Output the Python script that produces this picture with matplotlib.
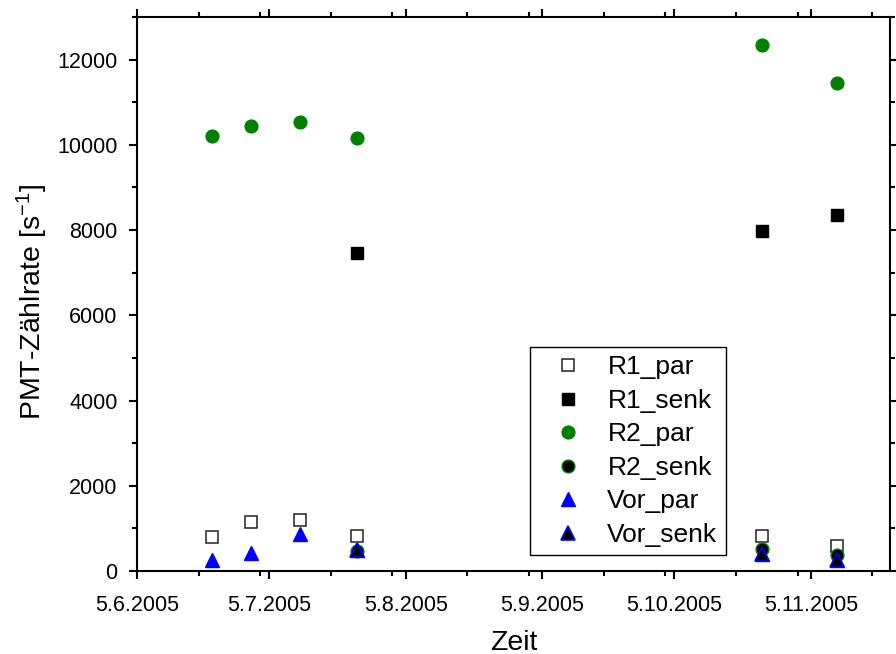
import datetime as dt
import matplotlib
matplotlib.use("Agg")
import matplotlib.pyplot as plt
import matplotlib.dates as mdates
from matplotlib.ticker import FuncFormatter, MultipleLocator, FixedLocator

plt.rcParams['font.family'] = ['Liberation Sans', 'DejaVu Sans']
plt.rcParams['mathtext.fontset'] = 'custom'
plt.rcParams['mathtext.rm'] = 'Liberation Sans'
plt.rcParams['mathtext.it'] = 'Liberation Sans'

# ---- data ----
dates_all = ["2005-06-22", "2005-07-01", "2005-07-12", "2005-07-25", "2005-10-25", "2005-11-11"]
dates_late = ["2005-07-25", "2005-10-25", "2005-11-11"]

r1_par = [800, 1150, 1205, 828, 810, 590]
r1_senk = [7470, 7970, 8345]
r2_par = [10200, 10450, 10530, 10170, 12350, 11455]
r2_senk = [470, 516, 385]
vor_par = [262, 423, 869, 500, 400, 260]
vor_senk = [500, 405, 250]

major_tick_dates = ["2005-06-05", "2005-07-05", "2005-08-05", "2005-09-05", "2005-10-05", "2005-11-05"]
x_range = ["2005-06-05", "2005-11-23"]

def to_dt(lst):
    return [dt.datetime.strptime(s, "%Y-%m-%d") for s in lst]

xa = to_dt(dates_all)
xl = to_dt(dates_late)
majors = to_dt(major_tick_dates)
minors = []
for m in majors:
    minors.append(m + dt.timedelta(days=14))
    minors.append(m + dt.timedelta(days=28))

fig = plt.figure(figsize=(8.96, 6.54), dpi=100)
ax = fig.add_axes([137/896, 83/654, 753/896, 554/654])

ax.plot(xa, r1_par, linestyle='none', marker='s', ms=8.3, mfc='white', mec='#222222', mew=1.1, label='R1_par')
ax.plot(xl, r1_senk, linestyle='none', marker='s', ms=8.3, mfc='black', mec='black', mew=1.0, label='R1_senk')
ax.plot(xa, r2_par, linestyle='none', marker='o', ms=9.2, mfc='#008000', mec='#008000', mew=1.0, label='R2_par')
ax.plot(xl, r2_senk, linestyle='none', marker='o', ms=9.2, mfc='black', mec='#008000', mew=1.0, label='R2_senk')
ax.plot(xa, vor_par, linestyle='none', marker='^', ms=10.5, mfc='#0000ff', mec='#0000ff', mew=1.0, label='Vor_par')
ax.plot(xl, vor_senk, linestyle='none', marker='^', ms=10.5, mfc='black', mec='#0000ff', mew=1.2, label='Vor_senk')

xr = to_dt(x_range)
ax.set_xlim(xr[0], xr[1])
ax.set_ylim(0, 13000)

ax.xaxis.set_major_locator(FixedLocator(mdates.date2num(majors)))
ax.xaxis.set_minor_locator(FixedLocator(mdates.date2num(minors)))
def fmt(v, pos):
    d = mdates.num2date(v)
    return f"{d.day}.{d.month}.{d.year}"
ax.xaxis.set_major_formatter(FuncFormatter(fmt))

ax.yaxis.set_major_locator(MultipleLocator(2000))
ax.yaxis.set_minor_locator(MultipleLocator(1000))

for s in ax.spines.values():
    s.set_linewidth(1.5)
ax.tick_params(which='both', direction='out', top=True, right=True, width=1.5, labelsize=15.5)
ax.tick_params(which='major', length=6)
ax.tick_params(which='minor', length=3.8)
ax.tick_params(axis='x', which='major', pad=11)
ax.tick_params(axis='y', which='major', pad=8)

ax.set_xlabel('Zeit', fontsize=20.5, labelpad=10)
ax.set_ylabel('PMT-Zählrate [s$^{-1}$]', fontsize=20.5)
ax.yaxis.set_label_coords(-0.116, 0.486)

leg = ax.legend(loc='lower left', bbox_to_anchor=(0.522, 0.028), fontsize=19, frameon=True,
                fancybox=False, edgecolor='black', framealpha=1, handletextpad=0.4,
                labelspacing=0.36, borderpad=0.33, handlelength=2.2, borderaxespad=0)
leg.get_frame().set_linewidth(1.0)

fig.savefig('out.png', dpi=100)
